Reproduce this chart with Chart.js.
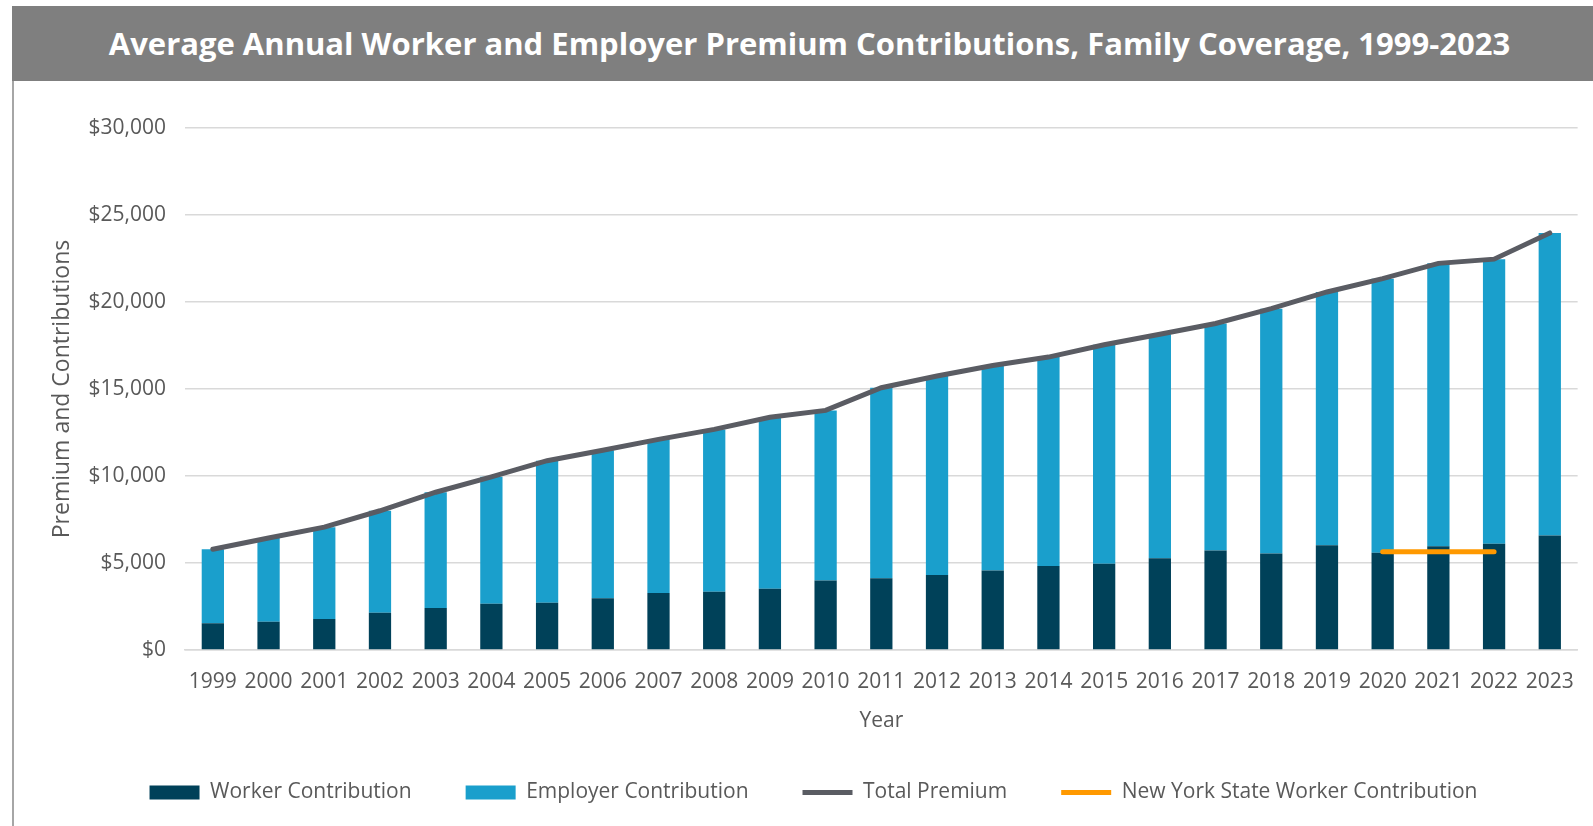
<!DOCTYPE html>
<html>
<head>
<meta charset="utf-8">
<script src="https://cdn.jsdelivr.net/npm/chart.js@4"></script>
<style>
  body { margin: 0; background: #fff; font-family: "Open Sans", sans-serif; }
  #titleBar {
    position: absolute; left: 12px; top: 6px; width: 1581px; height: 75px;
    background: #7f7f7f; color: #fff; font-weight: bold; font-size: 31px;
    line-height: 75px; text-align: center; padding-left: 14px; box-sizing: border-box;
    white-space: nowrap;
  }
  #edge { position: absolute; left: 12px; top: 81px; width: 2px; height: 745px; background: #a6a6a6; }
  #wrap { position: absolute; left: 0; top: 82px; width: 1593px; height: 744px; }
</style>
</head>
<body>
<div id="titleBar">Average Annual Worker and Employer Premium Contributions, Family Coverage, 1999-2023</div>
<div id="edge"></div>
<div id="wrap"><canvas id="chart"></canvas></div>
<script>
const years = ['1999','2000','2001','2002','2003','2004','2005','2006','2007','2008','2009','2010','2011','2012','2013','2014','2015','2016','2017','2018','2019','2020','2021','2022','2023'];
const workerContribution = [1543,1619,1787,2137,2412,2661,2713,2973,3281,3354,3515,3997,4129,4316,4565,4823,4955,5277,5714,5547,6015,5588,5969,6106,6575];
const employerContribution = [4247,4819,5269,5866,6657,7289,8167,8508,8824,9325,9860,9773,10944,11429,11786,12011,12591,12865,13049,14069,14561,15754,16253,16357,17393];
const totalPremium = [5791,6438,7061,8003,9068,9950,10880,11480,12106,12680,13375,13770,15073,15745,16351,16834,17545,18142,18764,19616,20576,21342,22221,22463,23968];
const nyWorkerContribution = [null,null,null,null,null,null,null,null,null,null,null,null,null,null,null,null,null,null,null,null,null,5650,5650,5650,null];

const textColor = '#595959';
const font = '"Open Sans", sans-serif';

new Chart(document.getElementById('chart'), {
    type: 'bar',
    data: {
        labels: years,
        datasets: [{
            label: 'Worker Contribution',
            data: workerContribution,
            backgroundColor: '#004159',
            barPercentage: 0.4,
            categoryPercentage: 1,
            order: 3
        }, {
            label: 'Employer Contribution',
            data: employerContribution,
            backgroundColor: '#1a9fcc',
            barPercentage: 0.4,
            categoryPercentage: 1,
            order: 3
        }, {
            type: 'line',
            label: 'Total Premium',
            data: totalPremium,
            stack: 'total',
            borderColor: '#5a5c63',
            backgroundColor: '#5a5c63',
            borderWidth: 5,
            borderCapStyle: 'round',
            pointRadius: 0,
            order: 2
        }, {
            type: 'line',
            label: 'New York State Worker Contribution',
            data: nyWorkerContribution,
            stack: 'ny',
            borderColor: '#ff9900',
            backgroundColor: '#ff9900',
            borderWidth: 5,
            borderCapStyle: 'round',
            pointRadius: 0,
            order: 1
        }]
    },
    options: {
        responsive: true,
        maintainAspectRatio: false,
        animation: false,
        layout: { padding: { top: 46, right: 10, left: 44, bottom: 13 } },
        plugins: {
            tooltip: { enabled: false },
            legend: {
                position: 'bottom',
                labels: {
                    color: textColor,
                    font: { family: font, size: 21 },
                    usePointStyle: true,
                    pointStyleWidth: 50,
                    boxHeight: 14,
                    padding: 54,
                    sort: (a, b) => a.datasetIndex - b.datasetIndex,
                    generateLabels(chart) {
                        const items = Chart.defaults.plugins.legend.labels.generateLabels(chart);
                        items.forEach(it => {
                            const isBar = it.datasetIndex < 2;
                            it.pointStyle = isBar ? 'rect' : 'line';
                            if (isBar) it.lineWidth = 0;
                        });
                        return items;
                    }
                }
            }
        },
        scales: {
            x: {
                stacked: true,
                grid: { display: false, drawTicks: false },
                border: { color: '#d9d9d9', width: 1.5 },
                ticks: { color: textColor, font: { family: font, size: 21 }, padding: 19, maxRotation: 0, autoSkip: false },
                title: { display: true, text: 'Year', color: textColor, font: { family: font, size: 21 }, padding: { top: 0, bottom: -6 } },
                afterFit(scale) { scale.height = 78; }
            },
            y: {
                stacked: true,
                min: 0,
                max: 30000,
                grid: { color: '#d9d9d9', lineWidth: 1.5, drawTicks: false },
                border: { display: false },
                ticks: {
                    stepSize: 5000,
                    color: textColor,
                    font: { family: font, size: 21 },
                    padding: 19,
                    callback: v => '$' + v.toLocaleString('en-US')
                },
                title: { display: true, text: 'Premium and Contributions', color: textColor, font: { family: font, size: 23 }, padding: { top: 5, bottom: 0 } },
                afterFit(scale) { scale.width = 141; }
            }
        }
    }
});
</script>
</body>
</html>
